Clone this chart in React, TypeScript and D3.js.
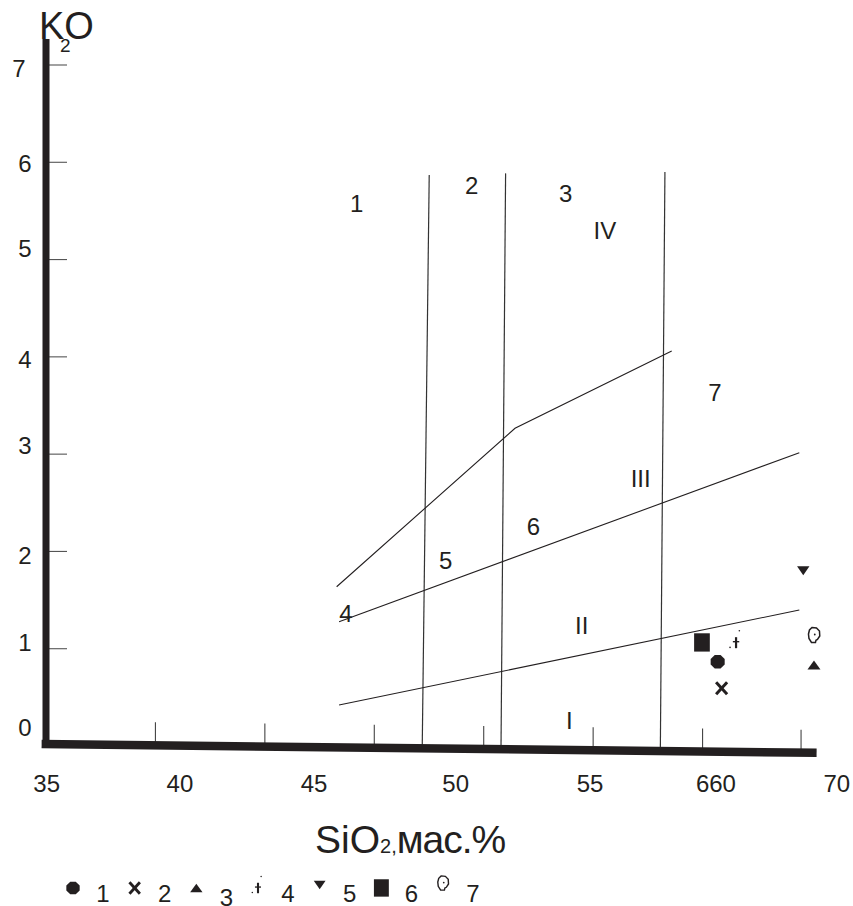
import React from "react";
import * as d3 from "d3";

// ---- data ----
const SIO2_TICKS = [40, 45, 50, 55, 60, 65, 69.5];
const K2O_TICKS = [1, 2, 3, 4, 5, 6, 7];

const X_TICK_LABELS = ["35", "40", "45", "50", "55", "660", "70"];
const X_TICK_LABEL_AT = [35.03, 41.12, 47.25, 53.72, 59.86, 65.61, 71.13];
const Y_TICK_LABELS = ["0", "1", "2", "3", "4", "5", "6", "7"];
const Y_TICK_LABEL_AT = [0.195, 1.07, 1.96, 3.09, 3.97, 5.12, 5.99, 6.97];

// vertical SiO2 boundaries (slightly skewed in the original drawing)
const BOUNDARY_SIO2_TOP = [52.51, 56.0, 63.28];
const BOUNDARY_SIO2_BOTTOM = [52.19, 55.79, 63.07];
const BOUNDARY_K2O_TOP = [5.87, 5.886, 5.9];

// K2O series boundary lines [SiO2, K2O]
const SHOSHONITE_LINE: [number, number][] = [
  [48.28, 1.637],
  [56.43, 3.266],
  [63.59, 4.06],
];
const HIGH_K_LINE: [number, number][] = [
  [48.39, 1.278],
  [69.42, 3.015],
];
const LOW_K_LINE: [number, number][] = [
  [48.39, 0.421],
  [69.42, 1.398],
];

// field labels
const FIELD_LABELS = ["1", "2", "3", "IV", "7", "III", "6", "5", "4", "II", "I"];
const FIELD_SIO2 = [49.2, 54.45, 58.75, 60.54, 65.57, 62.17, 57.27, 53.26, 48.71, 59.48, 58.91];
const FIELD_K2O = [5.578, 5.766, 5.681, 5.304, 3.639, 2.752, 2.261, 1.905, 1.364, 1.244, 0.267];

// samples
const SAMPLE_IDS = ["1", "2", "3", "4", "5", "6", "7"];
const SAMPLE_SIO2 = [65.69, 65.87, 70.09, 66.53, 69.6, 64.97, 70.09];
const SAMPLE_K2O = [0.866, 0.593, 0.833, 1.062, 1.802, 1.064, 1.141];

const INK = "#231f20";
const FONT = "'Liberation Sans', Arial, Helvetica, sans-serif";

function Marker({ id, cx, cy, s = 1 }: { id: string; cx: number; cy: number; s?: number }) {
  const t = `translate(${cx},${cy}) scale(${s})`;
  switch (id) {
    case "1": {
      const pts = d3.range(8).map((k) => {
        const a = ((22.5 + 45 * k) * Math.PI) / 180;
        return [7.6 * Math.cos(a), 7.2 * Math.sin(a)];
      });
      return <polygon transform={t} points={pts.map((p) => p.join(",")).join(" ")} fill={INK} />;
    }
    case "2":
      return (
        <g transform={t} stroke={INK} strokeWidth={3}>
          <line x1={-5.5} y1={-6} x2={5.5} y2={6} />
          <line x1={5.5} y1={-6} x2={-5.5} y2={6} />
        </g>
      );
    case "3":
      return <polygon transform={t} points="-6.5,4.5 6.5,4.5 0,-4.5" fill={INK} />;
    case "4":
      return (
        <g transform={t} fill={INK} stroke={INK}>
          <line x1={0} y1={-5.5} x2={0} y2={5.5} strokeWidth={2.2} />
          <line x1={-3.2} y1={-1} x2={3.2} y2={-1} strokeWidth={1.4} />
          <circle cx={3.3} cy={-12} r={0.8} stroke="none" />
          <circle cx={-6} cy={4.7} r={0.8} stroke="none" />
        </g>
      );
    case "5":
      return <polygon transform={t} points="-6.2,-4.5 6.2,-4.5 0,4.5" fill={INK} />;
    case "6":
      return <rect transform={t} x={-7.8} y={-9.2} width={15.7} height={18.3} fill={INK} />;
    case "7":
      return (
        <g transform={t}>
          <path
            d="M -2,-7.5 L 2.5,-7 L 5.5,-4 L 5.8,1 L 3.5,4.5 L 2,5.2 L 1.5,7.5 L -2.5,7.5 L -5,3.5 L -5.5,-1 L -4.5,-5 Z"
            fill="white"
            stroke={INK}
            strokeWidth={1.5}
          />
          <circle cx={0.8} cy={-0.5} r={0.9} fill={INK} />
        </g>
      );
    default:
      return null;
  }
}

export default function App() {
  const W = 853;
  const H = 906;
  const x = d3.scaleLinear().domain([35, 70]).range([46, 812]);
  const y = d3.scaleLinear().domain([0, 7]).range([746, 65]);

  const line = d3
    .line<[number, number]>()
    .x((d) => x(d[0]))
    .y((d) => y(d[1]));

  // the drawn x-axis sags slightly to the right
  const axisStart: [number, number] = [34.8, 0.0206];
  const axisEnd: [number, number] = [70.21, -0.07];
  const axisYAt = (px: number) =>
    y(axisStart[1]) + ((px - x(axisStart[0])) * (y(axisEnd[1]) - y(axisStart[1]))) / (x(axisEnd[0]) - x(axisStart[0]));

  const legend = d3.scalePoint<string>().domain(SAMPLE_IDS).range([73, 443]);

  return (
    <svg
      width={W}
      height={H}
      viewBox={`0 0 ${W} ${H}`}
      style={{ position: "absolute", left: 0, top: 0, background: "white" }}
      fontFamily={FONT}
    >
      <rect width={W} height={H} fill="white" />

      {/* y ticks */}
      {K2O_TICKS.map((v) => (
        <line key={"yt" + v} x1={x(35) + 3} x2={x(35) + 21} y1={y(v)} y2={y(v)} stroke="#555" strokeWidth={1.1} />
      ))}
      {/* x ticks */}
      {SIO2_TICKS.map((v) => (
        <line
          key={"xt" + v}
          x1={x(v)}
          x2={x(v)}
          y1={axisYAt(x(v)) - 23}
          y2={axisYAt(x(v))}
          stroke="#444"
          strokeWidth={1.1}
        />
      ))}

      {/* vertical SiO2 boundaries */}
      {BOUNDARY_SIO2_TOP.map((v, i) => (
        <line
          key={"b" + i}
          x1={x(v)}
          y1={y(BOUNDARY_K2O_TOP[i])}
          x2={x(BOUNDARY_SIO2_BOTTOM[i])}
          y2={axisYAt(x(BOUNDARY_SIO2_BOTTOM[i]))}
          stroke="#333"
          strokeWidth={1.2}
        />
      ))}

      {/* series lines */}
      {[SHOSHONITE_LINE, HIGH_K_LINE, LOW_K_LINE].map((d, i) => (
        <path key={"l" + i} d={line(d) || ""} fill="none" stroke={INK} strokeWidth={1.1} />
      ))}

      {/* axes */}
      <line
        x1={x(axisStart[0])}
        y1={y(axisStart[1])}
        x2={x(axisEnd[0])}
        y2={y(axisEnd[1])}
        stroke={INK}
        strokeWidth={8.5}
      />
      <line x1={x(35)} y1={y(7.267)} x2={x(35)} y2={y(-0.02)} stroke={INK} strokeWidth={7} />

      {/* tick labels */}
      {X_TICK_LABELS.map((t, i) => (
        <text key={"xl" + i} x={x(X_TICK_LABEL_AT[i])} y={792} fontSize={24} textAnchor="middle" fill={INK}>
          {t}
        </text>
      ))}
      {Y_TICK_LABELS.map((t, i) => (
        <text
          key={"yl" + i}
          x={t === "7" ? 19 : 25}
          y={y(Y_TICK_LABEL_AT[i])}
          dy="0.36em"
          fontSize={24}
          textAnchor="middle"
          fill={INK}
        >
          {t}
        </text>
      ))}

      {/* field labels */}
      {FIELD_LABELS.map((t, i) => (
        <text
          key={"fl" + i}
          x={x(FIELD_SIO2[i])}
          y={y(FIELD_K2O[i])}
          dy="0.36em"
          fontSize={24}
          textAnchor="middle"
          fill={INK}
        >
          {t}
        </text>
      ))}

      {/* samples */}
      {SAMPLE_IDS.map((id, i) => (
        <Marker key={"s" + id} id={id} cx={x(SAMPLE_SIO2[i])} cy={y(SAMPLE_K2O[i])} />
      ))}

      {/* axis titles */}
      <text x={39} y={39} fontSize={38} fill={INK}>
        KO
      </text>
      <text x={60} y={52} fontSize={19} fill={INK}>
        2
      </text>
      <text x={315} y={853} fontSize={39} fill={INK}>
        SiO<tspan fontSize={20}>2,</tspan>
        <tspan letterSpacing={-1}>мас.%</tspan>
      </text>

      {/* legend */}
      {SAMPLE_IDS.map((id) => (
        <g key={"lg" + id}>
          <Marker id={id} cx={legend(id) || 0} cy={id === "7" ? 883 : id === "5" ? 885 : 888} s={0.95} />
          <text x={(legend(id) || 0) + 30} y={id === "3" ? 906 : 902} fontSize={24} textAnchor="middle" fill={INK}>
            {id}
          </text>
        </g>
      ))}
    </svg>
  );
}
